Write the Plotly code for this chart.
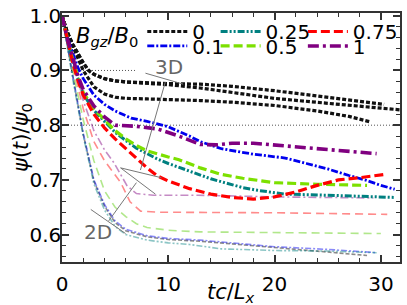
import plotly.graph_objects as go

# ---------------- data ----------------
# 3D runs (bold)
t3_b0_a = [0, 0.5, 1, 1.5, 2, 2.5, 3, 4, 5, 6, 8, 10, 13, 16, 20, 25, 30.3]
p3_b0_a = [1.0, 0.97, 0.948, 0.93, 0.914, 0.9, 0.893, 0.885, 0.881, 0.879, 0.877, 0.876, 0.875, 0.871, 0.863, 0.851, 0.838]
t3_b0_b = [0, 0.5, 1, 1.5, 2, 2.5, 3, 4, 5, 6, 8, 10, 13, 16, 20, 25, 31.8]
p3_b0_b = [1.0, 0.97, 0.948, 0.93, 0.914, 0.9, 0.893, 0.885, 0.881, 0.879, 0.877, 0.874, 0.868, 0.86, 0.849, 0.84, 0.828]
t3_b0_c = [0, 0.5, 1, 1.5, 2, 3, 4, 5, 6, 8, 10, 13, 16, 20, 24, 27, 29]
p3_b0_c = [1.0, 0.97, 0.945, 0.922, 0.9, 0.87, 0.857, 0.851, 0.849, 0.848, 0.847, 0.845, 0.842, 0.836, 0.826, 0.816, 0.806]

t3_b01 = [0, 0.5, 1, 1.5, 2, 3, 4, 5, 6.5, 8, 10, 12, 13, 15, 18, 21, 23, 25, 27, 28.5, 30, 31.3]
p3_b01 = [1.0, 0.962, 0.932, 0.905, 0.885, 0.855, 0.838, 0.826, 0.813, 0.807, 0.797, 0.78, 0.77, 0.757, 0.747, 0.74, 0.73, 0.72, 0.708, 0.70, 0.69, 0.683]

t3_b025 = [0, 0.5, 1, 1.5, 2, 3, 4, 5, 6, 7, 8, 9, 10, 12, 14, 15.3, 17, 18.4, 21, 25, 29, 31.3]
p3_b025 = [1.0, 0.955, 0.918, 0.885, 0.857, 0.827, 0.807, 0.787, 0.772, 0.758, 0.748, 0.738, 0.73, 0.716, 0.702, 0.695, 0.686, 0.681, 0.674, 0.672, 0.669, 0.668]

t3_b05 = [0, 0.5, 1, 1.5, 2, 3, 4, 5, 6, 7, 8, 9, 10, 11, 12, 13, 15, 17, 20, 24, 28.7]
p3_b05 = [1.0, 0.957, 0.92, 0.888, 0.86, 0.83, 0.81, 0.79, 0.775, 0.763, 0.753, 0.747, 0.742, 0.737, 0.73, 0.722, 0.71, 0.703, 0.695, 0.692, 0.69]

t3_b075 = [0, 0.5, 1, 1.5, 2, 3, 4, 5, 6, 7, 8, 9, 10, 12, 14, 16, 18, 20, 22, 24, 26, 28, 30.3]
p3_b075 = [1.0, 0.955, 0.915, 0.882, 0.855, 0.82, 0.795, 0.775, 0.757, 0.74, 0.722, 0.707, 0.698, 0.684, 0.674, 0.668, 0.665, 0.669, 0.678, 0.69, 0.70, 0.704, 0.71]

t3_b1 = [0, 0.5, 1, 1.5, 2, 3, 4, 5, 7, 9, 11, 13, 14.5, 16, 18, 21, 24, 27, 29.6]
p3_b1 = [1.0, 0.958, 0.925, 0.89, 0.865, 0.835, 0.815, 0.80, 0.798, 0.793, 0.78, 0.765, 0.764, 0.767, 0.767, 0.762, 0.758, 0.752, 0.748]

# 2D runs (thin, faded)
t2_b0 = [0, 1, 2, 3, 4, 5, 6, 8, 10, 13, 16, 20, 25, 28.7]
p2_b0 = [1.0, 0.888, 0.783, 0.698, 0.652, 0.622, 0.607, 0.596, 0.591, 0.588, 0.583, 0.577, 0.568, 0.562]
t2_b01 = [0, 1, 2, 3, 4, 5, 6, 8, 10, 13, 16, 20, 25, 29.6]
p2_b01 = [1.0, 0.89, 0.785, 0.70, 0.655, 0.625, 0.61, 0.598, 0.593, 0.59, 0.585, 0.578, 0.573, 0.567]
t2_b025 = [0, 1, 2, 3, 4, 5, 6, 8, 10, 12, 15, 20, 25, 29.6]
p2_b025 = [1.0, 0.885, 0.78, 0.693, 0.645, 0.615, 0.60, 0.59, 0.585, 0.582, 0.574, 0.571, 0.57, 0.567]
t2_b05 = [0, 1, 2, 3, 4, 5, 6, 7, 8, 10, 13, 20, 30]
p2_b05 = [1.0, 0.90, 0.81, 0.735, 0.68, 0.65, 0.633, 0.62, 0.613, 0.608, 0.605, 0.604, 0.602]
t2_b075 = [0, 1, 2, 3, 4, 5, 5.5, 6.4, 7.4, 9, 12, 20, 30.6]
p2_b075 = [1.0, 0.91, 0.83, 0.77, 0.735, 0.71, 0.696, 0.66, 0.643, 0.641, 0.641, 0.64, 0.637]
t2_b1 = [0, 1, 2, 3, 4, 4.9, 5.5, 6.1, 7, 8.6, 12.8, 20, 29.3]
p2_b1 = [1.0, 0.92, 0.845, 0.79, 0.755, 0.731, 0.71, 0.69, 0.675, 0.672, 0.672, 0.669, 0.667]

# reference levels
ref09_t = [0, 7]
ref09_p = [0.9, 0.9]
ref08_t = [0, 32]
ref08_p = [0.8, 0.8]

legend_labels = ["0", "0.1", "0.25", "0.5", "0.75", "1"]

# ---------------- styles ----------------
C_BLACK = "#111111"
C_BLUE = "#0000ee"
C_TEAL = "#008080"
C_GREEN = "#7ce000"
C_RED = "#ff0000"
C_PURPLE = "#800080"

D_DOT = "4px,2px"
D_DASHDOT = "7px,2px,2px,2px"
D_DDD = "7px,2px,2px,2px,2px,2px"
D_DASH = "9px,4px"
D_LDASHDOT = "11px,4px,3px,4px"

fig = go.Figure()

def add(t, p, color, dash, width, opacity=1.0, name=None, legend=None):
    fig.add_trace(go.Scatter(
        x=t, y=p, mode="lines",
        line=dict(color=color, dash=dash, width=width),
        opacity=opacity, name=name, showlegend=legend is not None,
        legend=legend if legend is not None else "legend",
        hoverinfo="skip"))

# reference lines
add(ref09_t, ref09_p, "#555555", "1px,2px", 1)
add(ref08_t, ref08_p, "#555555", "1px,2px", 1)

# 2D
op2 = 0.45
add(t2_b0, p2_b0, "#000000", "4px,2px", 1.6, op2)
add(t2_b01, p2_b01, C_BLUE, "6px,2px,2px,2px", 1.6, op2)
add(t2_b025, p2_b025, C_TEAL, "6px,2px,2px,2px,2px,2px", 1.6, op2)
add(t2_b05, p2_b05, "#55cc00", "8px,5px", 1.6, op2)
add(t2_b075, p2_b075, C_RED, "8px,5px", 1.6, op2)
add(t2_b1, p2_b1, C_PURPLE, "8px,3px,2px,3px", 1.6, op2)

# 3D
add(t3_b0_a, p3_b0_a, C_BLACK, D_DOT, 3.2, name=legend_labels[0], legend="legend")
add(t3_b0_b, p3_b0_b, C_BLACK, D_DOT, 3.2)
add(t3_b0_c, p3_b0_c, C_BLACK, D_DOT, 3.2)
add(t3_b01, p3_b01, C_BLUE, D_DASHDOT, 2.8, name=legend_labels[1], legend="legend2")
add(t3_b025, p3_b025, C_TEAL, D_DDD, 3.0, name=legend_labels[2], legend="legend3")
add(t3_b05, p3_b05, C_GREEN, D_DASH, 3.2, name=legend_labels[3], legend="legend4")
add(t3_b075, p3_b075, C_RED, D_DASH, 3.2, name=legend_labels[4], legend="legend5")
add(t3_b1, p3_b1, C_PURPLE, D_LDASHDOT, 3.6, name=legend_labels[5], legend="legend6")

axis_common = dict(
    showline=True, linecolor="#333333", linewidth=1.5, mirror="ticks",
    ticks="inside", ticklen=7, tickwidth=1.5, tickcolor="#333333",
    showgrid=False, zeroline=False, ticklabeloverflow="allow",
    tickfont=dict(size=20, color="black", family="DejaVu Sans"),
)

fig.update_xaxes(range=[0, 31.8], tick0=0, dtick=10, ticklabelstandoff=3,
                 minor=dict(dtick=2, ticks="inside", ticklen=4, tickwidth=1, tickcolor="#333333"),
                 **axis_common)
fig.update_yaxes(range=[0.55, 1.005], tick0=0.6, dtick=0.1, tickformat=".1f",
                 ticklabelstandoff=-5,
                 minor=dict(dtick=0.02, ticks="inside", ticklen=4, tickwidth=1, tickcolor="#333333"),
                 **axis_common)

gray_line = dict(color="#777777", width=1)
# annotation brackets (3D / 2D)
fig.add_shape(type="line", x0=7.85, y0=0.895, x1=11.4, y1=0.875, line=gray_line)
fig.add_shape(type="line", x0=9.72, y0=0.879, x1=7.38, y1=0.718, line=gray_line)
fig.add_shape(type="line", x0=5.51, y0=0.722, x1=9.35, y1=0.704, line=gray_line)
fig.add_shape(type="line", x0=5.51, y0=0.722, x1=8.79, y1=0.674, line=gray_line)
fig.add_shape(type="line", x0=7.0, y0=0.695, x1=4.39, y1=0.625, line=gray_line)
fig.add_shape(type="line", x0=2.71, y0=0.646, x1=5.98, y1=0.602, line=gray_line)

fig.add_annotation(x=10.1, y=0.907, text="3D", showarrow=False,
                   font=dict(size=20, color="#666666", family="DejaVu Sans"))
fig.add_annotation(x=3.4, y=0.605, text="2D", showarrow=False,
                   font=dict(size=20, color="#666666", family="DejaVu Sans"))

# legend title
fig.add_annotation(xref="paper", yref="paper", x=0.132, y=0.905,
                   xanchor="center", yanchor="middle",
                   text="<i>B</i><sub><i>gz</i></sub>/<i>B</i><sub>0</sub>",
                   showarrow=False, font=dict(size=21, family="DejaVu Sans"))

# axis titles
fig.add_annotation(xref="paper", yref="paper", x=-0.12, y=0.5,
                   xanchor="center", yanchor="middle",
                   text="<i>ψ</i>(<i>t</i>)/<i>ψ</i><sub>0</sub>", textangle=-90,
                   showarrow=False, font=dict(size=21, family="DejaVu Sans"))
fig.add_annotation(xref="paper", yref="paper", x=0.5, y=-0.125,
                   xanchor="center", yanchor="middle",
                   text="<i>tc</i>/<i>L</i><sub><i>x</i></sub>",
                   showarrow=False, font=dict(size=21, family="DejaVu Sans"))

def leg(x, y):
    return dict(x=x, y=y, orientation="h", xanchor="left", yanchor="top",
                bgcolor="rgba(0,0,0,0)", font=dict(size=20, family="DejaVu Sans"),
                itemwidth=40)

col_x = [0.2375, 0.4545, 0.7126]
row_y = [1.004, 0.946]

fig.update_layout(
    width=407, height=305,
    margin=dict(l=62, r=4, t=4, b=43),
    paper_bgcolor="white", plot_bgcolor="white",
    font=dict(family="DejaVu Sans", size=20, color="black"),
    legend=leg(col_x[0], row_y[0]),
    legend2=leg(col_x[0], row_y[1]),
    legend3=leg(col_x[1], row_y[0]),
    legend4=leg(col_x[1], row_y[1]),
    legend5=leg(col_x[2], row_y[0]),
    legend6=leg(col_x[2], row_y[1]),
)

fig.write_html("out.html", config={"displayModeBar": False},
               post_script="document.body.style.margin='0';")
